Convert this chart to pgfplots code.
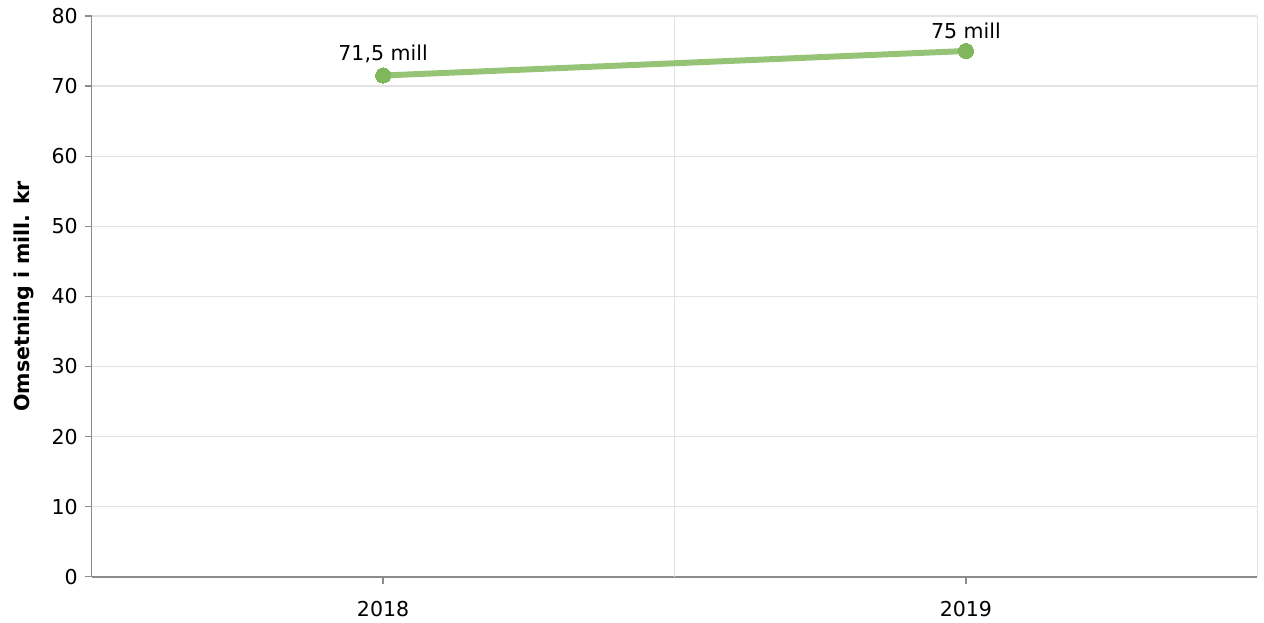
\documentclass[border=0pt]{standalone}
\usepackage{fontspec}
\setmainfont{DejaVu Sans}
\usepackage{pgfplots}
\pgfplotsset{compat=1.18}
\usetikzlibrary{calc}
\definecolor{linegreen}{RGB}{150,196,118}
\definecolor{markgreen}{RGB}{128,182,92}
\definecolor{gridgray}{RGB}{226,226,226}
\definecolor{axisgray}{RGB}{140,140,140}

\begin{document}
\begin{tikzpicture}
\begin{axis}[
  scale only axis, width=585pt, height=281.5pt,
  xmin=-0.5, xmax=1.5, ymin=0, ymax=80,
  xtick={0,1}, xticklabels={2018,2019},
  ytick={0,10,...,80},
  extra x ticks={0.5,1.5}, extra x tick labels={},
  extra x tick style={grid=major, major tick length=0pt},
  ymajorgrids, grid style={gridgray, line width=0.6pt},
  axis lines=left, axis line style={axisgray, line width=0.8pt, -},
  x axis line style={line width=1pt},
  tick style={axisgray, line width=0.6pt},
  major tick length=3.5pt, tick align=outside,
  xtick pos=bottom, ytick pos=left,
  /pgf/number format/assume math mode=true,
  tick label style={font=\fontsize{10.3}{12}\selectfont, text=black},
  xticklabel style={yshift=-5pt},
  ylabel={\textbf{Omsetning i mill. kr}},
  ylabel style={font=\fontsize{10.3}{12}\selectfont},
  ylabel shift=2pt,
  clip=false,
  nodes near coords, point meta=explicit symbolic,
  every node near coord/.append style={font=\fontsize{10.3}{12}\selectfont, text=black, yshift=3pt},
]
\addplot[linegreen, line width=3pt, mark=*, mark size=3.8pt,
  mark options={fill=markgreen, draw=markgreen, line width=0pt}]
  table[meta=label] {
  x y label
  0 71.5 {71,5~mill}
  1 75 {75~mill}
};
\end{axis}
\path ($(current axis.south west)+(-46pt,-23pt)$) rectangle ($(current axis.north east)+(1pt,8pt)$);
\end{tikzpicture}
\end{document}
